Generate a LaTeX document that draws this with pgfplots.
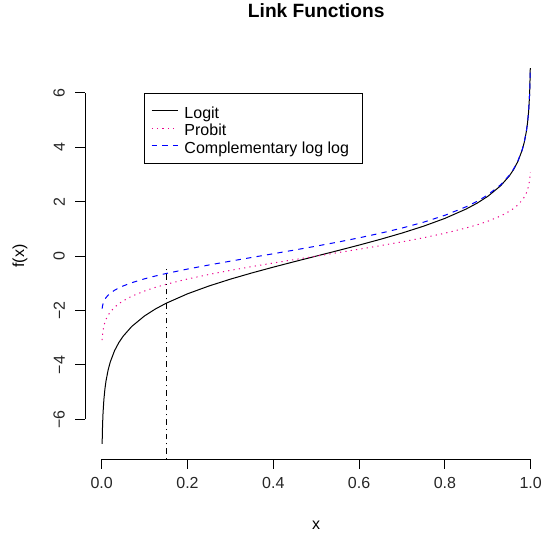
\documentclass[border=0pt]{standalone}
\usepackage{fontspec}
\setmainfont{Liberation Sans}
\usepackage{pgfplots}
\usepackage{pgfplotstable}
\pgfplotsset{compat=1.18}
\pgfplotstableread{
x logit probit cll
0.001 -6.9068 -3.0902 -1.9326
0.002 -6.2126 -2.8782 -1.8269
0.003 -5.8061 -2.7478 -1.7594
0.005 -5.2933 -2.5758 -1.6674
0.0075 -4.8853 -2.4324 -1.5878
0.01 -4.5951 -2.3263 -1.5272
0.015 -4.1846 -2.1701 -1.4350
0.02 -3.8918 -2.0537 -1.3640
0.03 -3.4761 -1.8808 -1.2547
0.04 -3.1781 -1.7507 -1.1691
0.05 -2.9444 -1.6449 -1.0972
0.07 -2.5867 -1.4758 -0.9780
0.1 -2.1972 -1.2816 -0.8340
0.125 -1.9459 -1.1503 -0.7321
0.15 -1.7346 -1.0364 -0.6403
0.2 -1.3863 -0.8416 -0.4759
0.25 -1.0986 -0.6745 -0.3266
0.3 -0.8473 -0.5244 -0.1856
0.35 -0.6190 -0.3853 -0.0486
0.4 -0.4055 -0.2533 0.0874
0.45 -0.2007 -0.1257 0.2250
0.5 0.0000 0.0000 0.3665
0.55 0.2007 0.1257 0.5144
0.6 0.4055 0.2533 0.6717
0.65 0.6190 0.3853 0.8422
0.7 0.8473 0.5244 1.0309
0.75 1.0986 0.6745 1.2459
0.8 1.3863 0.8416 1.4999
0.85 1.7346 1.0364 1.8169
0.875 1.9459 1.1503 2.0134
0.9 2.1972 1.2816 2.2504
0.93 2.5867 1.4758 2.6232
0.95 2.9444 1.6449 2.9702
0.96 3.1781 1.7507 3.1985
0.97 3.4761 1.8808 3.4913
0.98 3.8918 2.0537 3.9019
0.985 4.1846 2.1701 4.1921
0.99 4.5951 2.3263 4.6001
0.9925 4.8853 2.4324 4.8891
0.995 5.2933 2.5758 5.2958
0.997 5.8061 2.7478 5.8076
0.998 6.2126 2.8782 6.2136
0.999 6.9068 3.0902 6.9073
}\linkdata
\begin{document}
\begin{tikzpicture}
\path[use as bounding box] (0,0) rectangle (542bp,534bp);
\begin{axis}[
  at={(85bp,75bp)}, anchor=south west,
  scale only axis, width=462.4bp, height=405.8bp,
  xmin=-0.03892, xmax=1.03892, ymin=-7.459, ymax=7.460,
  axis lines*=left, axis line style={draw=none},
  clip=false,
  tick align=outside, major tick length=9.6bp,
  tick style={black, line width=1bp},
  xtick={0,0.2,0.4,0.6,0.8,1}, xticklabels={0.0,0.2,0.4,0.6,0.8,1.0},
  ytick={-6,-4,-2,0,2,4,6}, yticklabels={−6,−4,−2,0,2,4,6},
  /pgf/number format/assume math mode=true,
  every tick label/.append style={font=\fontsize{16bp}{19.2bp}\selectfont, text=black!85},
  xticklabel style={yshift=-5bp},
  yticklabel style={rotate=90, anchor=south, yshift=7bp},
  xlabel={x}, ylabel={f(x)},
  xlabel style={at={(rel axis cs:0.5,-0.163)}, anchor=center, inner sep=0pt, font=\fontsize{16bp}{19.2bp}\selectfont},
  ylabel style={at={(rel axis cs:-0.1406,0.5)}, anchor=center, inner sep=0pt, font=\fontsize{16bp}{19.2bp}\selectfont},
  title={Link Functions},
  title style={at={(rel axis cs:0.5,1.0912)}, anchor=center, inner sep=0pt, font=\bfseries\fontsize{19.2bp}{23bp}\selectfont},
  legend style={at={(rel axis cs:0.1276,0.9019)}, anchor=north west, draw=black, line width=1bp, fill=white,
    font=\fontsize{16bp}{19.2bp}\selectfont, inner xsep=6.65bp, inner ysep=8.7bp, row sep=0pt,
    nodes={inner xsep=6.35bp, inner ysep=1.3bp, text height=14.5bp, text depth=0.4bp}},
  legend cell align=left,
  legend image code/.code={\draw[#1] (0bp,0bp) -- (26bp,0bp);},
]
\addplot[black, line width=1bp] table[x=x, y=logit] {\linkdata};
\addlegendentry{Logit}
\addplot[magenta, line width=1bp, dash pattern=on 1.2bp off 4.2bp] table[x=x, y=probit] {\linkdata};
\addlegendentry{Probit}
\addplot[blue, line width=1bp, dash pattern=on 5.3bp off 5.3bp] table[x=x, y=cll] {\linkdata};
\addlegendentry{Complementary log log}
\addplot[black, line width=0.9bp, dash pattern=on 1.2bp off 4bp on 5.3bp off 4bp, forget plot] coordinates {(0.15,-7.459) (0.15,-0.45)};
\draw[black, line width=1bp] (axis cs:0,-7.459) -- (axis cs:1,-7.459);
\draw[black, line width=1bp] (axis cs:-0.03892,-6) -- (axis cs:-0.03892,6);
\end{axis}
\end{tikzpicture}
\end{document}
